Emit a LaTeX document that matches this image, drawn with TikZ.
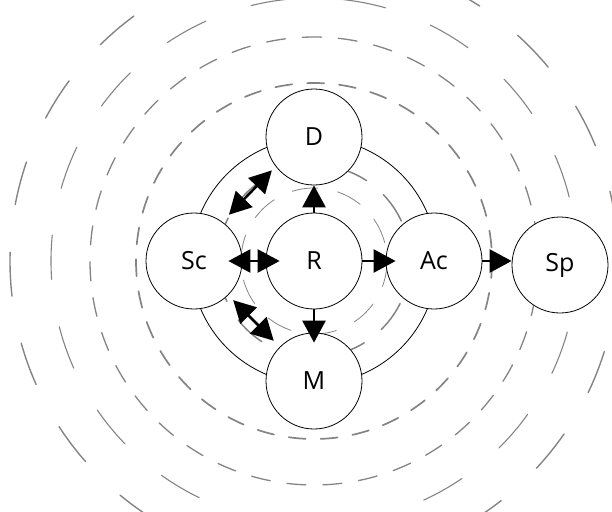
\documentclass[tikz,border=0pt]{standalone}
\usepackage{fontspec}
\setmainfont{Open Sans}
\usetikzlibrary{arrows.meta}
\definecolor{ringgray}{RGB}{135,131,131}
\begin{document}
\begin{tikzpicture}[x=1pt,y=-1pt,
  state/.style={circle,draw=black,line width=0.8pt,fill=white,minimum size=96pt,inner sep=0pt,font=\fontsize{25}{28}\selectfont},
  ring/.style={draw=ringgray,line cap=round},
  tip/.tip={Triangle[length=22pt,width=23pt]},
  arr/.style={line width=2.6pt,-tip},
  darr/.style={line width=2.6pt,tip-tip}]
\useasboundingbox (0,0) rectangle (612,511);
\coordinate (O) at (314,261);
% ripple rings
\draw[ring,line width=0.8pt,dash pattern=on 26pt off 20pt] (O) circle[radius=73];
\draw[ring,line width=1.5pt,dash pattern=on 32pt off 22pt,dash phase=10pt] (O) circle[radius=96];
\draw[ring,line width=1.7pt,dash pattern=on 17pt off 15pt] (O) circle[radius=178];
\draw[ring,line width=1.3pt,dash pattern=on 19pt off 17pt] (O) circle[radius=224];
\draw[ring,line width=1.1pt,dash pattern=on 44pt off 48pt,dash phase=20pt] (O) circle[radius=263];
\draw[ring,line width=1.4pt,dash pattern=on 44pt off 48pt] (O) circle[radius=304];
% solid ring
\draw[line width=0.8pt] (O) circle[radius=123];
% nodes
\node[state] (R) at (O) {R};
\node[state] (D) at (314,137) {D};
\node[state] (Sc) at (194,261) {Sc};
\node[state] (Ac) at (434,261) {Ac};
\node[state] (M) at (314,381) {M};
\node[state] (Sp) at (560,265) {Sp};
% arrows
\draw[arr] (R) -- (D);
\draw[arr,shorten >=-10pt] (R) -- (Ac);
\draw[arr,shorten >=-10pt] (R) -- (M);
\draw[arr] (Ac) -- (Ac -| Sp.west);
\draw[darr,shorten <=-14pt,shorten >=-14pt] (Sc) -- (R);
\draw[darr,shorten <=9pt,shorten >=5pt,transform canvas={shift={(-5pt,5pt)}}] (Sc) -- (D);
\draw[darr,shorten <=7pt,shorten >=8.5pt] (Sc) -- (M);
\end{tikzpicture}
\end{document}
